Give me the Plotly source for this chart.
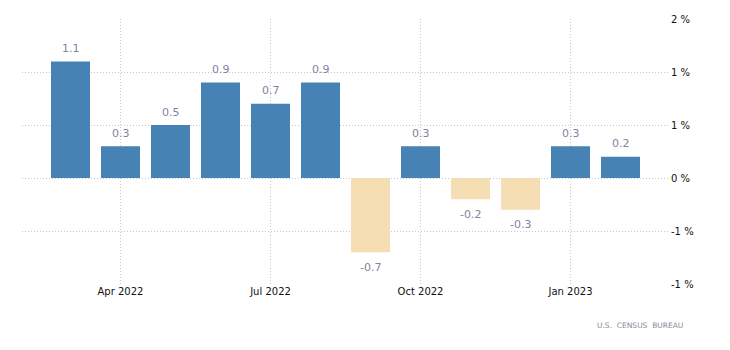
import plotly.graph_objects as go

months = ["Mar 2022", "Apr 2022", "May 2022", "Jun 2022", "Jul 2022", "Aug 2022",
          "Sep 2022", "Oct 2022", "Nov 2022", "Dec 2022", "Jan 2023", "Feb 2023"]
values = [1.1, 0.3, 0.5, 0.9, 0.7, 0.9, -0.7, 0.3, -0.2, -0.3, 0.3, 0.2]
x_tick_labels = ["Apr 2022", "Jul 2022", "Oct 2022", "Jan 2023"]
y_tick_vals = [1.5, 1.0, 0.5, 0.0, -0.5, -1.0]
y_tick_text = ["2 %", "1 %", "1 %", "0 %", "-1 %", "-1 %"]

POS = "#4682B4"
NEG = "#F5DEB3"
colors = [POS if v >= 0 else NEG for v in values]
idx = list(range(len(months)))
tick_idx = [months.index(m) for m in x_tick_labels]

fig = go.Figure(go.Bar(
    x=idx, y=values,
    marker=dict(color=colors, line=dict(width=0)),
    hoverinfo="skip",
))

label_annotations = [
    dict(x=i, y=v, xref="x", yref="y", text=f"{v:g}", showarrow=False,
         yshift=13 if v >= 0 else -15, yanchor="middle", xanchor="center",
         font=dict(family="DejaVu Sans", size=11, color="#8282a2"))
    for i, v in zip(idx, values)
]

grid = dict(showgrid=True, gridcolor="#c8c8c8", griddash="1px,2px", gridwidth=1,
            zeroline=False, showline=False, ticks="")

fig.update_layout(
    width=730, height=350,
    margin=dict(l=22, r=60, t=19, b=66),
    paper_bgcolor="white", plot_bgcolor="white",
    bargap=0.22,
    showlegend=False,
    font=dict(family="DejaVu Sans", size=10, color="#111"),
    xaxis=dict(
        range=[-0.97, 11.99],
        tickmode="array", tickvals=tick_idx, ticktext=x_tick_labels,
        tickfont=dict(family="DejaVu Sans", size=10, color="#111"),
        **grid,
    ),
    yaxis=dict(
        range=[-1.0, 1.5],
        side="right",
        tickmode="array", tickvals=y_tick_vals, ticktext=y_tick_text,
        tickfont=dict(family="DejaVu Sans", size=10, color="#111"),
        **grid,
    ),
    annotations=label_annotations + [dict(
        text="U.S.  CENSUS  BUREAU", xref="paper", yref="paper",
        x=1.023, y=-0.155, xanchor="right", yanchor="middle",
        showarrow=False,
        font=dict(family="DejaVu Sans", size=7.5, color="#8a8a9a"),
    )],
)

fig.write_html("out.html")
